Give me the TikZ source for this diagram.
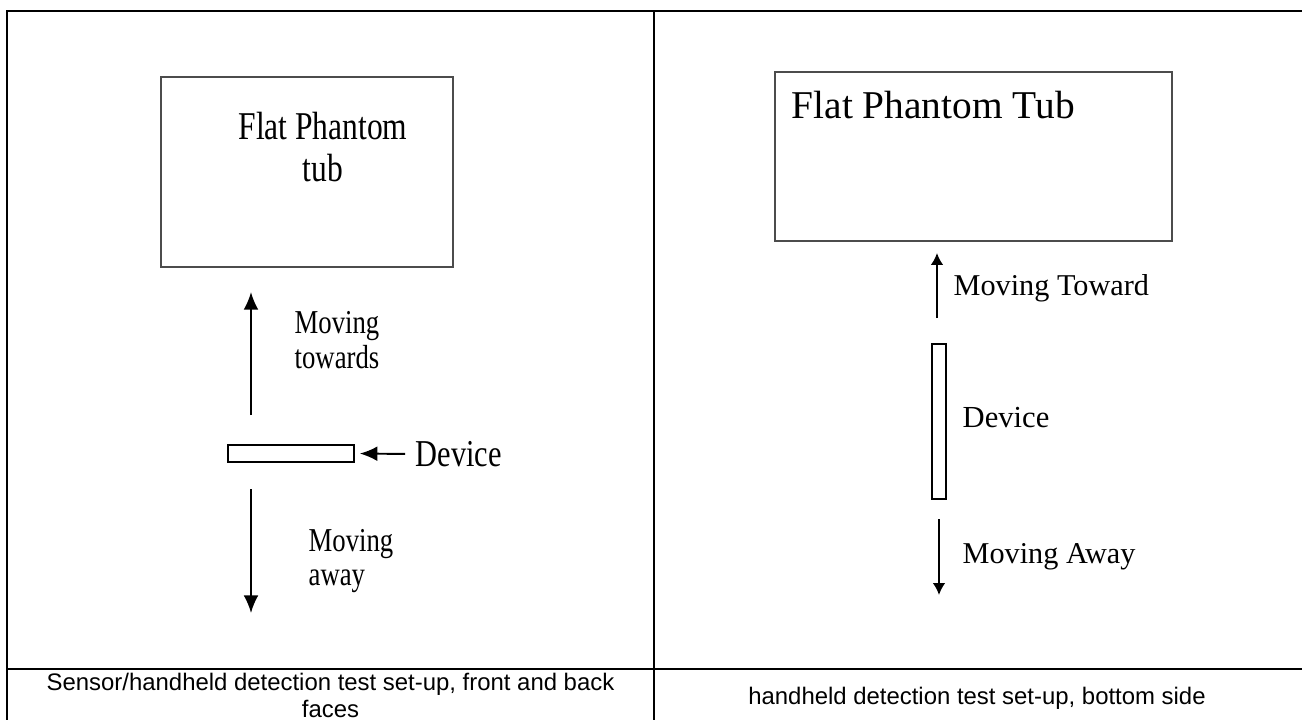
\documentclass[tikz,border=0pt]{standalone}
\usepackage{fontspec}
\setmainfont{Liberation Serif}
\setsansfont{Liberation Sans}
\newfontfamily\narrowserif[FakeStretch=0.8]{Liberation Serif}
\usetikzlibrary{arrows.meta}

\begin{document}
\begin{tikzpicture}
[x=0.01cm, y=-0.01cm,
tub/.style ={rectangle, draw=black!70, line width=0.4pt, inner sep=0},
dev/.style ={rectangle, draw=black, line width=0.45pt, inner sep=0},
txt/.style ={inner sep=0, align=left},
capbox/.style ={inner sep=0, align=center, font=\sffamily\fontsize{6.8}{7.7}\selectfont},
gridline/.style ={draw=black, line width=0.55pt},
line/.style ={draw, line width=0.55pt, -{Latex[length=5pt,width=4.2pt]}},
small/.style ={draw, line width=0.55pt, -{Latex[length=3.4pt,width=3.6pt]}}]
\useasboundingbox (0,0) rectangle (1302,720);
% table
\draw[gridline] (1302,11) -- (7,11) -- (7,720);
\draw[gridline] (654,11) -- (654,720);
\draw[gridline] (7,669) -- (1302,669);
% front and back faces
\draw (307,172) node[tub, minimum width=2.92cm, minimum height=1.9cm] (tubL) {};
\draw (323,147) node[txt, align=center, font=\narrowserif\fontsize{11.2}{12.2}\selectfont] (tubLtxt) {Flat Phantom\\tub};
\draw (291,453.5) node[dev, minimum width=1.26cm, minimum height=0.17cm] (devL) {};
\draw (415,454) node[txt, anchor=west, font=\narrowserif\fontsize{10.8}{12}\selectfont] (devLtxt) {Device};
\draw (294,340) node[txt, anchor=west, font=\narrowserif\fontsize{9.5}{9.8}\selectfont] (towL) {Moving\\towards};
\draw (308,561) node[txt, anchor=west, font=\narrowserif\fontsize{9.5}{9.9}\selectfont] (awayL) {Moving\\away};
\coordinate (towLa) at (251,415);
\coordinate (towLb) at (251,292);
\coordinate (awayLa) at (251,489);
\coordinate (awayLb) at (251,613);
\draw[line] (towLa) -- (towLb);
\draw[line] (awayLa) -- (awayLb);
\draw[line, shorten <=2.8pt, shorten >=1.4pt] (devLtxt.west) -- (devL.east);
% bottom side
\draw (973.5,156.5) node[tub, minimum width=3.97cm, minimum height=1.69cm] (tubR) {};
\draw (791,118) node[txt, anchor=base west, font=\fontsize{11.2}{13}\selectfont] (tubRtxt) {Flat Phantom Tub};
\draw (939,421.5) node[dev, minimum width=0.14cm, minimum height=1.55cm] (devR) {};
\draw (962,418) node[txt, anchor=west, font=\fontsize{8.7}{10}\selectfont] (devRtxt) {Device};
\draw (953,295) node[txt, anchor=base west, font=\fontsize{8.6}{10}\selectfont] (towR) {Moving Toward};
\draw (962,563) node[txt, anchor=base west, font=\fontsize{8.6}{10}\selectfont] (awayR) {Moving Away};
\coordinate (towRa) at (937,318);
\coordinate (towRb) at (937,253);
\coordinate (awayRa) at (939,519);
\coordinate (awayRb) at (939,595);
\draw[small] (towRa) -- (towRb);
\draw[small] (awayRa) -- (awayRb);
% captions
\draw (330.5,695) node[capbox] (capL) {Sensor/handheld detection test set-up, front and back\\faces};
\draw (977,698) node[capbox] (capR) {handheld detection test set-up, bottom side};
\end{tikzpicture}
\end{document}
